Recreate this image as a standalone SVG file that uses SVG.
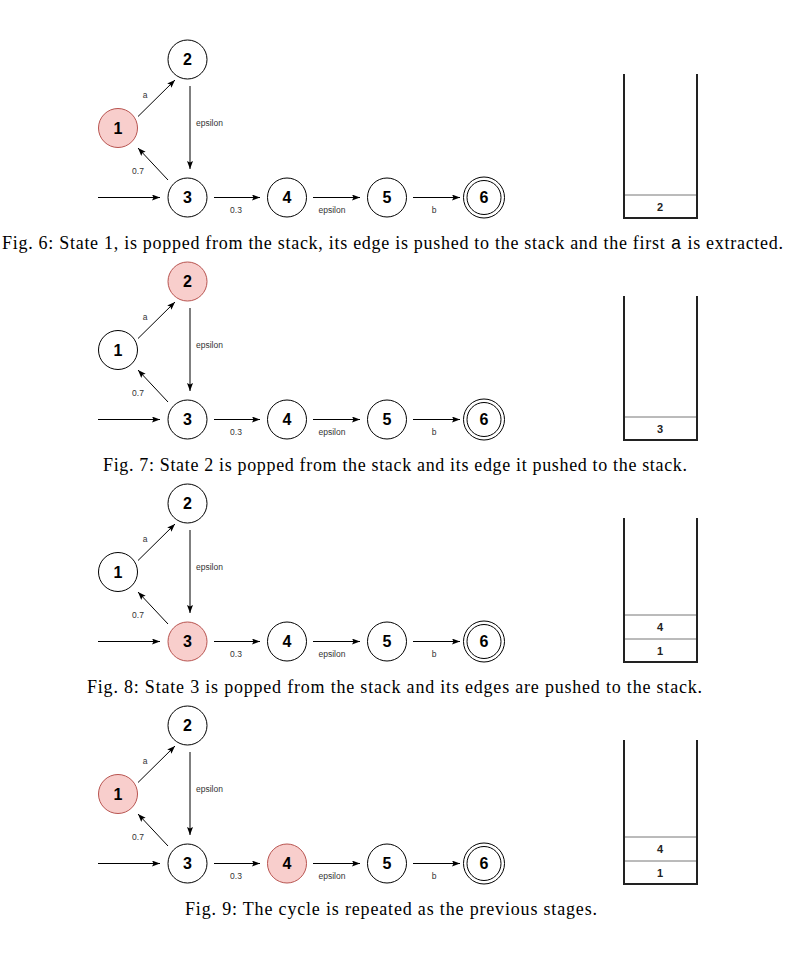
<svg xmlns="http://www.w3.org/2000/svg" width="787" height="955" viewBox="0 0 787 955">
<style>
.n{fill:#fff;stroke:#000;stroke-width:1}
.hl{fill:#f8cecc;stroke:#b85450;stroke-width:1}
.nt{font-family:"Liberation Sans",Arial,sans-serif;font-weight:bold;font-size:16px;text-anchor:middle;fill:#000}
.el{font-family:"Liberation Sans",Arial,sans-serif;font-size:8.5px;fill:#333}
.ed{stroke:#000;stroke-width:1;fill:none;marker-end:url(#ah)}
.wall{stroke:#222;stroke-width:2;fill:none}
.sd{stroke:#777;stroke-width:1;fill:none}
.st{font-family:"Liberation Sans",Arial,sans-serif;font-weight:bold;font-size:11px;text-anchor:middle;fill:#222}
.cap{font-family:"Liberation Serif","Times New Roman",serif;font-size:18px;fill:#000;text-anchor:middle}
.mono{font-family:"Liberation Mono","Courier New",monospace}
</style>
<defs>
<marker id="ah" markerUnits="userSpaceOnUse" markerWidth="9" markerHeight="7" refX="8" refY="3" orient="auto">
<path d="M0,0 L8,3 L0,6 L1.5,3 Z" fill="#000"/>
</marker>
</defs>

<!-- Panel 1 -->
<g id="panel1">
<g id="p1-edges">
<line class="ed" x1="98" y1="197.5" x2="160" y2="197.5"/>
<line class="ed" x1="138" y1="116.5" x2="175" y2="80"/>
<line class="ed" x1="190" y1="86" x2="190" y2="169"/>
<line class="ed" x1="168" y1="180" x2="138" y2="148"/>
<line class="ed" x1="214" y1="197.5" x2="260" y2="197.5"/>
<line class="ed" x1="313" y1="197.5" x2="360" y2="197.5"/>
<line class="ed" x1="413" y1="197.5" x2="460" y2="197.5"/>
<text class="el" x="145" y="98" text-anchor="middle">a</text>
<text class="el" x="196" y="126">epsilon</text>
<text class="el" x="138" y="174" text-anchor="middle">0.7</text>
<text class="el" x="236" y="213" text-anchor="middle">0.3</text>
<text class="el" x="332" y="213" text-anchor="middle">epsilon</text>
<text class="el" x="434" y="213" text-anchor="middle">b</text>
</g>
<g id="p1-n1"><circle class="hl" cx="118" cy="128" r="19.5"/><text class="nt" x="118" y="133.5">1</text></g>
<g id="p1-n2"><circle class="n" cx="187.5" cy="59.5" r="19.5"/><text class="nt" x="187.5" y="65">2</text></g>
<g id="p1-n3"><circle class="n" cx="187.5" cy="197.5" r="19.5"/><text class="nt" x="187.5" y="203">3</text></g>
<g id="p1-n4"><circle class="n" cx="287" cy="197.5" r="19.5"/><text class="nt" x="287" y="203">4</text></g>
<g id="p1-n5"><circle class="n" cx="387" cy="197.5" r="19.5"/><text class="nt" x="387" y="203">5</text></g>
<g id="p1-n6"><circle class="n" cx="484" cy="197.5" r="20.5"/><circle class="n" cx="484" cy="197.5" r="17"/><text class="nt" x="484" y="203">6</text></g>
<g id="p1-stack">
<line class="sd" x1="624" y1="195" x2="697" y2="195"/>
<path class="wall" d="M624,74 V218 H697 V74"/>
<text class="st" x="660" y="211">2</text>
</g>
<text class="cap" x="392.5" y="249" textLength="781" lengthAdjust="spacing">Fig. 6: State 1, is popped from the stack, its edge is pushed to the stack and the first <tspan class="mono">a</tspan> is extracted.</text>
</g>

<!-- Panel 2 -->
<g id="panel2" transform="translate(0,222)">
<g id="p2-edges">
<line class="ed" x1="98" y1="197.5" x2="160" y2="197.5"/>
<line class="ed" x1="138" y1="116.5" x2="175" y2="80"/>
<line class="ed" x1="190" y1="86" x2="190" y2="169"/>
<line class="ed" x1="168" y1="180" x2="138" y2="148"/>
<line class="ed" x1="214" y1="197.5" x2="260" y2="197.5"/>
<line class="ed" x1="313" y1="197.5" x2="360" y2="197.5"/>
<line class="ed" x1="413" y1="197.5" x2="460" y2="197.5"/>
<text class="el" x="145" y="98" text-anchor="middle">a</text>
<text class="el" x="196" y="126">epsilon</text>
<text class="el" x="138" y="174" text-anchor="middle">0.7</text>
<text class="el" x="236" y="213" text-anchor="middle">0.3</text>
<text class="el" x="332" y="213" text-anchor="middle">epsilon</text>
<text class="el" x="434" y="213" text-anchor="middle">b</text>
</g>
<g id="p2-n1"><circle class="n" cx="118" cy="128" r="19.5"/><text class="nt" x="118" y="133.5">1</text></g>
<g id="p2-n2"><circle class="hl" cx="187.5" cy="59.5" r="19.5"/><text class="nt" x="187.5" y="65">2</text></g>
<g id="p2-n3"><circle class="n" cx="187.5" cy="197.5" r="19.5"/><text class="nt" x="187.5" y="203">3</text></g>
<g id="p2-n4"><circle class="n" cx="287" cy="197.5" r="19.5"/><text class="nt" x="287" y="203">4</text></g>
<g id="p2-n5"><circle class="n" cx="387" cy="197.5" r="19.5"/><text class="nt" x="387" y="203">5</text></g>
<g id="p2-n6"><circle class="n" cx="484" cy="197.5" r="20.5"/><circle class="n" cx="484" cy="197.5" r="17"/><text class="nt" x="484" y="203">6</text></g>
<g id="p2-stack">
<line class="sd" x1="624" y1="195" x2="697" y2="195"/>
<path class="wall" d="M624,74 V218 H697 V74"/>
<text class="st" x="660" y="211">3</text>
</g>
<text class="cap" x="395" y="249" textLength="584" lengthAdjust="spacing">Fig. 7: State 2 is popped from the stack and its edge it pushed to the stack.</text>
</g>

<!-- Panel 3 -->
<g id="panel3" transform="translate(0,444)">
<g id="p3-edges">
<line class="ed" x1="98" y1="197.5" x2="160" y2="197.5"/>
<line class="ed" x1="138" y1="116.5" x2="175" y2="80"/>
<line class="ed" x1="190" y1="86" x2="190" y2="169"/>
<line class="ed" x1="168" y1="180" x2="138" y2="148"/>
<line class="ed" x1="214" y1="197.5" x2="260" y2="197.5"/>
<line class="ed" x1="313" y1="197.5" x2="360" y2="197.5"/>
<line class="ed" x1="413" y1="197.5" x2="460" y2="197.5"/>
<text class="el" x="145" y="98" text-anchor="middle">a</text>
<text class="el" x="196" y="126">epsilon</text>
<text class="el" x="138" y="174" text-anchor="middle">0.7</text>
<text class="el" x="236" y="213" text-anchor="middle">0.3</text>
<text class="el" x="332" y="213" text-anchor="middle">epsilon</text>
<text class="el" x="434" y="213" text-anchor="middle">b</text>
</g>
<g id="p3-n1"><circle class="n" cx="118" cy="128" r="19.5"/><text class="nt" x="118" y="133.5">1</text></g>
<g id="p3-n2"><circle class="n" cx="187.5" cy="59.5" r="19.5"/><text class="nt" x="187.5" y="65">2</text></g>
<g id="p3-n3"><circle class="hl" cx="187.5" cy="197.5" r="19.5"/><text class="nt" x="187.5" y="203">3</text></g>
<g id="p3-n4"><circle class="n" cx="287" cy="197.5" r="19.5"/><text class="nt" x="287" y="203">4</text></g>
<g id="p3-n5"><circle class="n" cx="387" cy="197.5" r="19.5"/><text class="nt" x="387" y="203">5</text></g>
<g id="p3-n6"><circle class="n" cx="484" cy="197.5" r="20.5"/><circle class="n" cx="484" cy="197.5" r="17"/><text class="nt" x="484" y="203">6</text></g>
<g id="p3-stack">
<line class="sd" x1="624" y1="171" x2="697" y2="171"/>
<line class="sd" x1="624" y1="195" x2="697" y2="195"/>
<path class="wall" d="M624,74 V218 H697 V74"/>
<text class="st" x="660" y="187">4</text>
<text class="st" x="660" y="211">1</text>
</g>
<text class="cap" x="394.5" y="249" textLength="615" lengthAdjust="spacing">Fig. 8: State 3 is popped from the stack and its edges are pushed to the stack.</text>
</g>

<!-- Panel 4 -->
<g id="panel4" transform="translate(0,666)">
<g id="p4-edges">
<line class="ed" x1="98" y1="197.5" x2="160" y2="197.5"/>
<line class="ed" x1="138" y1="116.5" x2="175" y2="80"/>
<line class="ed" x1="190" y1="86" x2="190" y2="169"/>
<line class="ed" x1="168" y1="180" x2="138" y2="148"/>
<line class="ed" x1="214" y1="197.5" x2="260" y2="197.5"/>
<line class="ed" x1="313" y1="197.5" x2="360" y2="197.5"/>
<line class="ed" x1="413" y1="197.5" x2="460" y2="197.5"/>
<text class="el" x="145" y="98" text-anchor="middle">a</text>
<text class="el" x="196" y="126">epsilon</text>
<text class="el" x="138" y="174" text-anchor="middle">0.7</text>
<text class="el" x="236" y="213" text-anchor="middle">0.3</text>
<text class="el" x="332" y="213" text-anchor="middle">epsilon</text>
<text class="el" x="434" y="213" text-anchor="middle">b</text>
</g>
<g id="p4-n1"><circle class="hl" cx="118" cy="128" r="19.5"/><text class="nt" x="118" y="133.5">1</text></g>
<g id="p4-n2"><circle class="n" cx="187.5" cy="59.5" r="19.5"/><text class="nt" x="187.5" y="65">2</text></g>
<g id="p4-n3"><circle class="n" cx="187.5" cy="197.5" r="19.5"/><text class="nt" x="187.5" y="203">3</text></g>
<g id="p4-n4"><circle class="hl" cx="287" cy="197.5" r="19.5"/><text class="nt" x="287" y="203">4</text></g>
<g id="p4-n5"><circle class="n" cx="387" cy="197.5" r="19.5"/><text class="nt" x="387" y="203">5</text></g>
<g id="p4-n6"><circle class="n" cx="484" cy="197.5" r="20.5"/><circle class="n" cx="484" cy="197.5" r="17"/><text class="nt" x="484" y="203">6</text></g>
<g id="p4-stack">
<line class="sd" x1="624" y1="171" x2="697" y2="171"/>
<line class="sd" x1="624" y1="195" x2="697" y2="195"/>
<path class="wall" d="M624,74 V218 H697 V74"/>
<text class="st" x="660" y="187">4</text>
<text class="st" x="660" y="211">1</text>
</g>
<text class="cap" x="391" y="249" textLength="412" lengthAdjust="spacing">Fig. 9: The cycle is repeated as the previous stages.</text>
</g>
</svg>
